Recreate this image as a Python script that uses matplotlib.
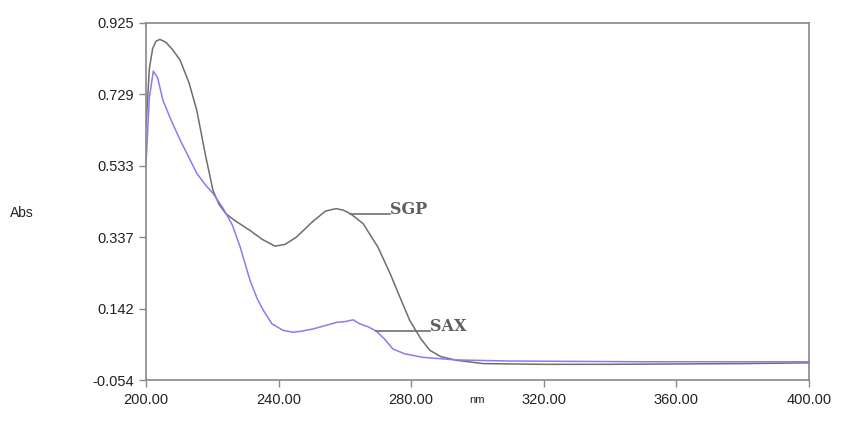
import matplotlib.pyplot as plt

# wavelengths (nm) and absorbance
sgp_nm = [200.0, 201.0, 202.0, 203.0, 204.2, 206.0, 208.0, 210.3, 213.0, 215.3, 218.0, 220.2,
          222.0, 224.1, 227.0, 231.4, 235.0, 238.9, 242.0, 245.4, 250.0, 254.1, 257.3, 259.5,
          261.7, 265.5, 270.0, 273.7, 277.0, 279.6, 283.0, 285.7, 289.0, 293.7, 301.7, 320.0,
          340.0, 360.0, 380.0, 400.0]
sgp_abs = [0.64, 0.80, 0.855, 0.875, 0.880, 0.872, 0.852, 0.823, 0.760, 0.686, 0.560, 0.466,
           0.428, 0.402, 0.382, 0.356, 0.332, 0.313, 0.318, 0.338, 0.378, 0.409, 0.416, 0.412,
           0.402, 0.375, 0.310, 0.237, 0.165, 0.109, 0.058, 0.027, 0.010, 0.000, -0.009, -0.011,
           -0.011, -0.010, -0.009, -0.007]

sax_nm = [200.0, 201.0, 202.2, 203.5, 205.1, 207.5, 210.3, 213.0, 215.3, 218.0, 220.2, 223.3,
          226.0, 228.4, 231.4, 233.5, 235.4, 238.0, 241.4, 244.4, 247.0, 250.4, 254.0, 257.5,
          260.0, 262.5, 264.5, 267.0, 269.5, 272.0, 274.5, 278.0, 283.6, 293.7, 310.0, 330.0,
          350.0, 370.0, 390.0, 400.0]
sax_abs = [0.54, 0.72, 0.793, 0.775, 0.713, 0.660, 0.604, 0.555, 0.513, 0.480, 0.458, 0.416,
           0.372, 0.311, 0.219, 0.170, 0.137, 0.100, 0.082, 0.077, 0.080, 0.086, 0.095, 0.104,
           0.106, 0.111, 0.100, 0.092, 0.080, 0.058, 0.031, 0.018, 0.008, 0.001, -0.002, -0.003,
           -0.004, -0.004, -0.004, -0.004]

x_ticks = [200, 240, 280, 320, 360, 400]
y_ticks = [-0.054, 0.142, 0.337, 0.533, 0.729, 0.925]

plt.rcParams['font.family'] = ['Liberation Sans', 'DejaVu Sans']

fig = plt.figure(figsize=(8.54, 4.33), dpi=100)
ax = fig.add_axes([0.171, 0.1224, 0.776, 0.8245])

ax.plot(sgp_nm, sgp_abs, color='#6e6e6e', lw=1.1)
ax.plot(sax_nm, sax_abs, color='#8a7bf2', lw=1.1)

# leader lines and curve labels
ax.plot([261.5, 273.6], [0.400, 0.400], color='#6e6e6e', lw=1.2)
ax.text(273.6, 0.400, 'SGP', family='DejaVu Serif', fontweight='bold', fontsize=11.5,
        color='#5e5e5e', va='baseline', ha='left')
ax.plot([269.5, 285.8], [0.080, 0.080], color='#6e6e6e', lw=1.2)
ax.text(285.6, 0.080, 'SAX', family='DejaVu Serif', fontweight='bold', fontsize=11.5,
        color='#5e5e5e', va='baseline', ha='left')

ax.set_xlim(200, 400)
ax.set_ylim(-0.054, 0.925)
ax.set_xticks(x_ticks)
ax.set_xticklabels([f'{v:.2f}' for v in x_ticks])
ax.set_yticks(y_ticks)
ax.set_yticklabels([f'{v:.3f}' for v in y_ticks])
ax.tick_params(direction='out', length=5, width=1, color='#888888',
               labelsize=10.5, labelcolor='#222222', pad=4)
for s in ax.spines.values():
    s.set_color('#888888')
    s.set_linewidth(1.2)

fig.text(10 / 854, 1 - 213 / 433, 'Abs', fontsize=10, color='#222222', va='center', ha='left')
fig.text(477 / 854, 1 - 400 / 433, 'nm', fontsize=8, color='#222222', va='center', ha='center')

fig.savefig('out.png', dpi=100)
